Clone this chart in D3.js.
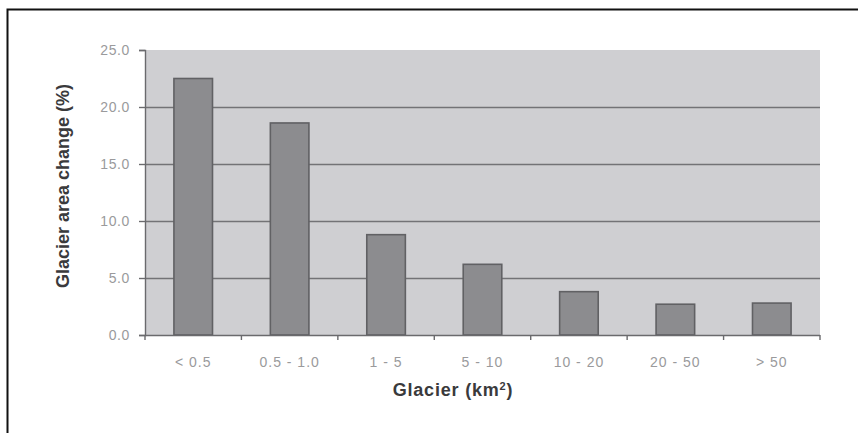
<!DOCTYPE html>
<html>
<head>
<meta charset="utf-8">
<script src="https://cdn.jsdelivr.net/npm/d3@7"></script>
<style>
  html, body { margin: 0; padding: 0; background: #fff; }
  svg { display: block; }
</style>
</head>
<body>
<svg id="chart" width="858" height="433"></svg>
<script>
// Glacier area change by glacier size class
const categories = ["< 0.5", "0.5 - 1.0", "1 - 5", "5 - 10", "10 - 20", "20 - 50", "> 50"];
const areaChange = [22.5, 18.6, 8.8, 6.2, 3.8, 2.7, 2.8];
const yTicks = [0, 5, 10, 15, 20, 25];

const svg = d3.select("#chart");
const W = 858, H = 433;
const m = { left: 145, right: 38, top: 50, bottom: 98 };
const iw = W - m.left - m.right, ih = H - m.top - m.bottom;
const font = "Liberation Sans, Arial, sans-serif";

// outer frame (top and left edges visible)
svg.append("rect")
  .attr("x", 7.5).attr("y", 9.5)
  .attr("width", W + 10).attr("height", H + 10)
  .attr("fill", "none").attr("stroke", "#111").attr("stroke-width", 2);

const g = svg.append("g").attr("transform", `translate(${m.left},${m.top})`);

const x = d3.scaleBand().domain(categories).range([0, iw]).paddingInner(0.6).paddingOuter(0.3);
const y = d3.scaleLinear().domain([0, 25]).range([ih, 0]);

// plot background
g.append("rect").attr("width", iw).attr("height", ih).attr("fill", "#cfcfd2");

// horizontal gridlines
g.selectAll(".grid").data(yTicks.filter(d => d > 0 && d < 25)).join("line")
  .attr("x1", 0).attr("x2", iw)
  .attr("y1", d => y(d) + 0.5).attr("y2", d => y(d) + 0.5)
  .attr("stroke", "#737376").attr("stroke-width", 1.6);

// bars
g.selectAll(".bar").data(areaChange).join("rect")
  .attr("x", (d, i) => x(categories[i]))
  .attr("y", d => y(d))
  .attr("width", x.bandwidth())
  .attr("height", d => ih - y(d))
  .attr("fill", "#8c8c8f")
  .attr("stroke", "#616164").attr("stroke-width", 1.6);

// y axis
const yAxis = g.append("g")
  .call(d3.axisLeft(y).tickValues(yTicks).tickFormat(d3.format(".1f")).tickSize(6).tickPadding(9));
yAxis.select(".domain").attr("stroke", "#6a6a6d").attr("stroke-width", 1.4);
yAxis.selectAll(".tick line").attr("stroke", "#6a6a6d").attr("stroke-width", 1.4);
yAxis.selectAll(".tick text")
  .attr("fill", "#9a9a9c")
  .style("font-family", font)
  .style("font-size", "14px")
  .style("letter-spacing", "0.6px");

// x axis: ticks at band boundaries
const bounds = d3.range(categories.length + 1).map(i => i * iw / categories.length);
const xAxis = g.append("g").attr("transform", `translate(0,${ih})`);
xAxis.append("line").attr("x1", 0).attr("x2", iw).attr("y1", 0.5).attr("y2", 0.5)
  .attr("stroke", "#6a6a6d").attr("stroke-width", 1.6);
xAxis.selectAll(".xt").data(bounds).join("line")
  .attr("x1", d => d).attr("x2", d => d)
  .attr("y1", 0).attr("y2", 5)
  .attr("stroke", "#6a6a6d").attr("stroke-width", 1.4);
xAxis.selectAll(".xl").data(categories).join("text")
  .attr("x", d => x(d) + x.bandwidth() / 2)
  .attr("y", 32)
  .attr("text-anchor", "middle")
  .attr("fill", "#9a9a9c")
  .style("font-family", font)
  .style("font-size", "14px")
  .style("letter-spacing", "1px")
  .text(d => d);

// axis titles
const xTitle = svg.append("text")
  .attr("x", 453).attr("y", 396)
  .attr("text-anchor", "middle")
  .attr("fill", "#3a3a3c")
  .style("font-family", font)
  .style("letter-spacing", "0.8px")
  .style("font-size", "18px").style("font-weight", "bold");
xTitle.append("tspan").text("Glacier (km");
xTitle.append("tspan").attr("dy", -6).style("font-size", "11px").text("2");
xTitle.append("tspan").attr("dy", 6).text(")");

svg.append("text")
  .attr("transform", `translate(69,${186}) rotate(-90)`)
  .attr("text-anchor", "middle")
  .attr("fill", "#3a3a3c")
  .style("font-family", font)
  .style("font-size", "18px").style("font-weight", "bold")
  .style("letter-spacing", "0px")
  .text("Glacier area change (%)");
</script>
</body>
</html>
